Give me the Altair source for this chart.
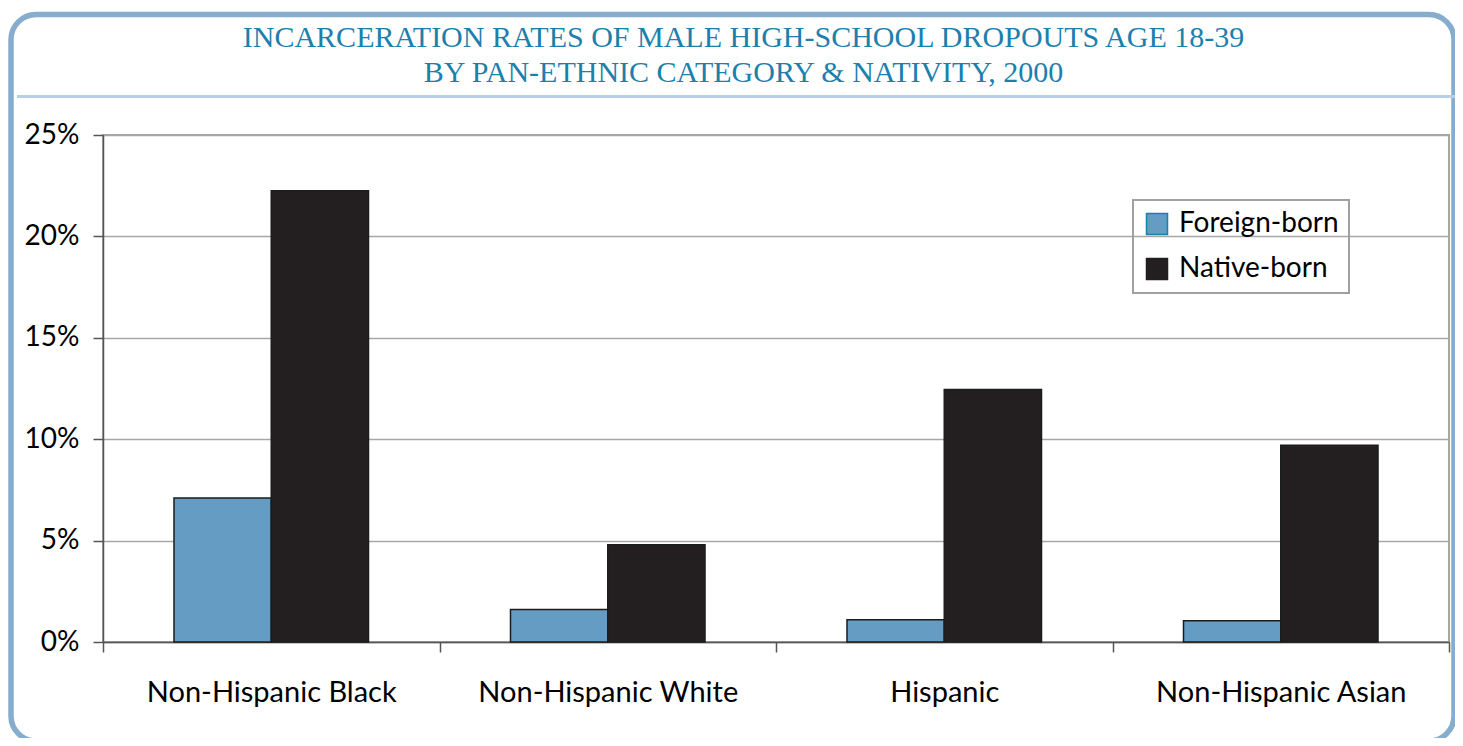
import altair as alt
import pandas as pd

CATEGORIES = ["Non-Hispanic Black", "Non-Hispanic White", "Hispanic", "Non-Hispanic Asian"]
NATIVITY = ["Foreign-born", "Native-born"]
FOREIGN_BORN = [7.1, 1.6, 1.1, 1.05]
NATIVE_BORN = [22.25, 4.8, 12.45, 9.7]
Y_TICKS = [0, 5, 10, 15, 20, 25]
TITLE_LINES = [
    "INCARCERATION RATES OF MALE HIGH-SCHOOL DROPOUTS AGE 18-39",
    "BY PAN-ETHNIC CATEGORY & NATIVITY, 2000",
]
COLORS = ["#649cc4", "#231f20"]

rows = []
for c, f, n in zip(CATEGORIES, FOREIGN_BORN, NATIVE_BORN):
    rows.append({"category": c, "nativity": NATIVITY[0], "rate": f})
    rows.append({"category": c, "nativity": NATIVITY[1], "rate": n})
df = pd.DataFrame(rows)
one = pd.DataFrame({"k": [0]})

W, H = 1346, 507

bars = alt.Chart(df).mark_bar(stroke="#1c1c1c", strokeWidth=1.5).encode(
    x=alt.X(
        "category:N",
        sort=CATEGORIES,
        scale=alt.Scale(paddingInner=0, paddingOuter=0),
        axis=alt.Axis(title=None, labelAngle=0, tickBand="extent", labelLimit=0),
    ),
    xOffset=alt.XOffset(
        "nativity:N",
        sort=NATIVITY,
        scale=alt.Scale(paddingInner=0, paddingOuter=0.73),
    ),
    y=alt.Y(
        "rate:Q",
        scale=alt.Scale(domain=[0, 25], nice=False),
        axis=alt.Axis(title=None, values=Y_TICKS, labelExpr="datum.value + '%'"),
    ),
    color=alt.Color(
        "nativity:N",
        sort=NATIVITY,
        scale=alt.Scale(domain=NATIVITY, range=COLORS),
        legend=alt.Legend(
            title=None,
            orient="none",
            legendX=1030,
            legendY=65,
            symbolType="square",
            symbolSize=441,
            symbolStrokeWidth=1.5,
            symbolStrokeColor={"expr": "datum.value == 'Foreign-born' ? '#1b80ad' : '#231f20'"},
            labelFont="Lato",
            labelFontSize=28,
            labelColor="#000000",
            labelOffset=8,
            labelLimit=0,
            rowPadding=17,
            padding=10,
            strokeColor="#a0a0a0",
        ),
    ),
)

frame = alt.Chart(one).mark_rect(
    fillOpacity=0, stroke="#86acce", strokeWidth=5.5, cornerRadius=25
).encode(x=alt.value(-92), x2=alt.value(1351), y=alt.value(-120.5), y2=alt.value(606))

rule = alt.Chart(one).mark_rule(color="#b7cee5", strokeWidth=3).encode(
    x=alt.value(-86), x2=alt.value(1352), y=alt.value(-38.5)
)

title = alt.Chart(one).mark_text(
    font="Liberation Serif",
    fontSize=30,
    color="#1b80ad",
    align="center",
    baseline="alphabetic",
    lineHeight=35,
).encode(x=alt.value(640.5), y=alt.value(-88.5), text=alt.value(TITLE_LINES))

chart = (
    alt.layer(frame, rule, title, bars)
    .properties(
        width=W,
        height=H,
        padding={"left": 95, "top": 127, "right": 6, "bottom": 96},
        autosize=alt.AutoSizeParams(type="none"),
        background="#ffffff",
    )
    .configure_view(stroke="#a6a6a6", strokeWidth=2)
    .configure_axis(
        domainColor="#555555",
        domainWidth=1.5,
        tickColor="#555555",
        tickWidth=1.5,
        labelFont="Lato",
        labelFontSize=28,
        labelColor="#000000",
        gridColor="#a6a6a6",
        gridWidth=1.5,
    )
    .configure_axisX(grid=False, tickSize=10, labelPadding=26, labelFontSize=29)
    .configure_axisY(tickSize=10, labelPadding=14)
    .configure_legend(strokeWidth=2)
)

chart.save("out.html", embed_options={"renderer": "svg", "actions": False})
